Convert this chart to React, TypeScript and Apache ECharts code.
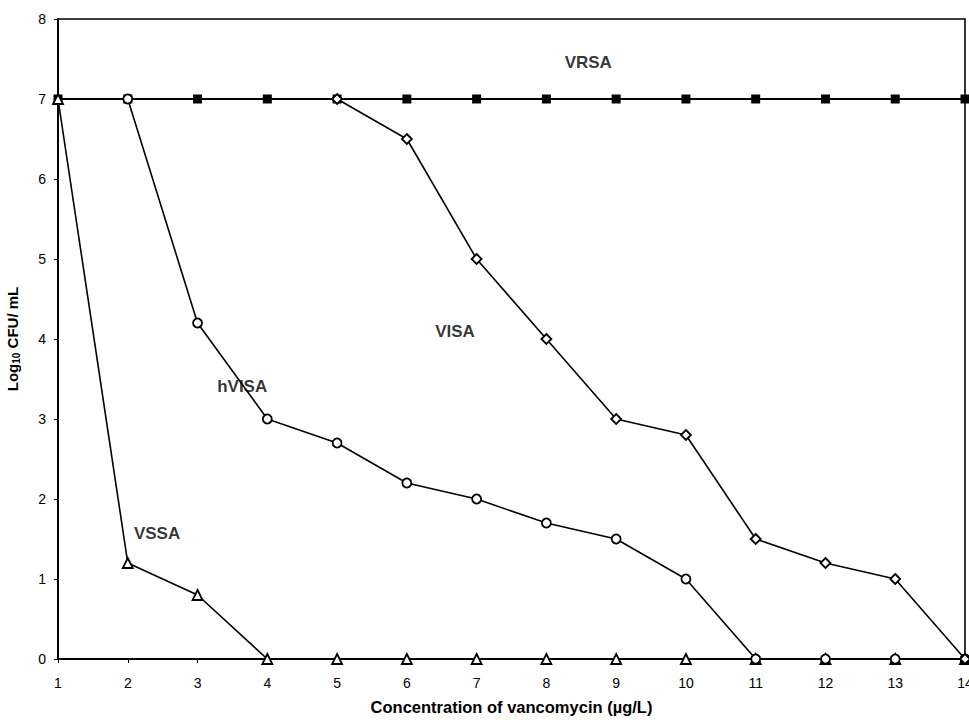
import React, { useEffect, useRef } from "react";
import * as echarts from "echarts";

const concentrations = [1, 2, 3, 4, 5, 6, 7, 8, 9, 10, 11, 12, 13, 14];
const vrsa = [7, 7, 7, 7, 7, 7, 7, 7, 7, 7, 7, 7, 7, 7];
const hvisaX = [2, 3, 4, 5, 6, 7, 8, 9, 10, 11, 12, 13, 14];
const hvisa = [7, 4.2, 3.0, 2.7, 2.2, 2.0, 1.7, 1.5, 1.0, 0, 0, 0, 0];
const visaX = [5, 6, 7, 8, 9, 10, 11, 12, 13, 14];
const visa = [7, 6.5, 5.0, 4.0, 3.0, 2.8, 1.5, 1.2, 1.0, 0];
const vssa = [7, 1.2, 0.8, 0, 0, 0, 0, 0, 0, 0, 0, 0, 0, 0];
const labelNames = ["VRSA", "VISA", "hVISA", "VSSA"];
const labelX = [8.6, 6.69, 3.64, 2.42];
const labelY = [7.46, 4.09, 3.41, 1.575];

const FONT = "'Liberation Sans', Arial, sans-serif";

export default function App() {
  const ref = useRef<HTMLDivElement>(null);
  useEffect(() => {
    if (!ref.current) return;
    const chart = echarts.init(ref.current, null, { renderer: "svg" });
    const zip = (xs: number[], ys: number[]) => xs.map((x, i) => [x, ys[i]]);
    const lineStyle = { color: "#000", width: 1.6 };
    const hollow = { color: "#fff", borderColor: "#000", borderWidth: 1.8 };
    chart.setOption({
      animation: false,
      backgroundColor: "#fff",
      grid: {
        left: 58,
        right: 4,
        top: 19,
        bottom: 61,
        containLabel: false,
        outerBoundsMode: "none",
        show: true,
        borderColor: "#000",
        borderWidth: 1.6,
        backgroundColor: "transparent",
      },
      xAxis: {
        type: "value",
        min: 1,
        max: 14,
        interval: 1,
        name: "Concentration of vancomycin (µg/L)",
        nameLocation: "middle",
        nameGap: 39,
        nameTextStyle: { fontFamily: FONT, fontWeight: "bold", fontSize: 16.5, color: "#000" },
        axisLine: { lineStyle: { color: "#000", width: 2 } },
        axisTick: { show: true, inside: false, length: 4, lineStyle: { color: "#000" } },
        axisLabel: { fontFamily: FONT, fontSize: 14, color: "#000", margin: 17, showMaxLabel: true },
        splitLine: { show: false },
      },
      yAxis: {
        type: "value",
        min: 0,
        max: 8,
        interval: 1,
        name: "{a|Log}{s|10}{a| CFU/ mL}",
        nameLocation: "middle",
        nameGap: 37,
        nameRotate: 90,
        nameTextStyle: {
          rich: {
            a: { fontFamily: FONT, fontWeight: "bold", fontSize: 15, color: "#000" },
            s: { fontFamily: FONT, fontWeight: "bold", fontSize: 10, color: "#000", verticalAlign: "bottom", padding: [7, 0, 0, 0] },
          },
        },
        axisLine: { show: true, lineStyle: { color: "#000", width: 2 } },
        axisTick: { show: true, inside: false, length: 4, lineStyle: { color: "#000" } },
        axisLabel: { fontFamily: FONT, fontSize: 14, color: "#000", margin: 12 },
        splitLine: { show: false },
      },
      series: [
        {
          name: "VRSA",
          type: "line",
          data: zip(concentrations, vrsa),
          symbol: "rect",
          symbolSize: 9,
          lineStyle: { color: "#000", width: 2.2 },
          itemStyle: { color: "#000" },
          z: 2,
        },
        {
          name: "VSSA",
          type: "line",
          data: zip(concentrations, vssa),
          symbol: "triangle",
          symbolSize: 10,
          lineStyle,
          itemStyle: hollow,
          z: 3,
        },
        {
          name: "hVISA",
          type: "line",
          data: zip(hvisaX, hvisa),
          symbol: "circle",
          symbolSize: 9,
          lineStyle,
          itemStyle: hollow,
          z: 4,
        },
        {
          name: "VISA",
          type: "line",
          data: zip(visaX, visa),
          symbol: "diamond",
          symbolSize: 10,
          lineStyle,
          itemStyle: hollow,
          z: 5,
        },
        {
          name: "labels",
          type: "scatter",
          data: labelNames.map((n, i) => ({ value: [labelX[i], labelY[i]], name: n })),
          symbolSize: 0,
          label: {
            show: true,
            position: "inside",
            formatter: (p: any) => p.name,
            fontFamily: FONT,
            fontWeight: "bold",
            fontSize: 17,
            color: "#000",
          },
          z: 7,
        },
      ],
    });
    return () => chart.dispose();
  }, []);
  return (
    <div
      ref={ref}
      style={{ position: "fixed", left: 0, top: 0, width: 969, height: 720, background: "#fff" }}
    />
  );
}
